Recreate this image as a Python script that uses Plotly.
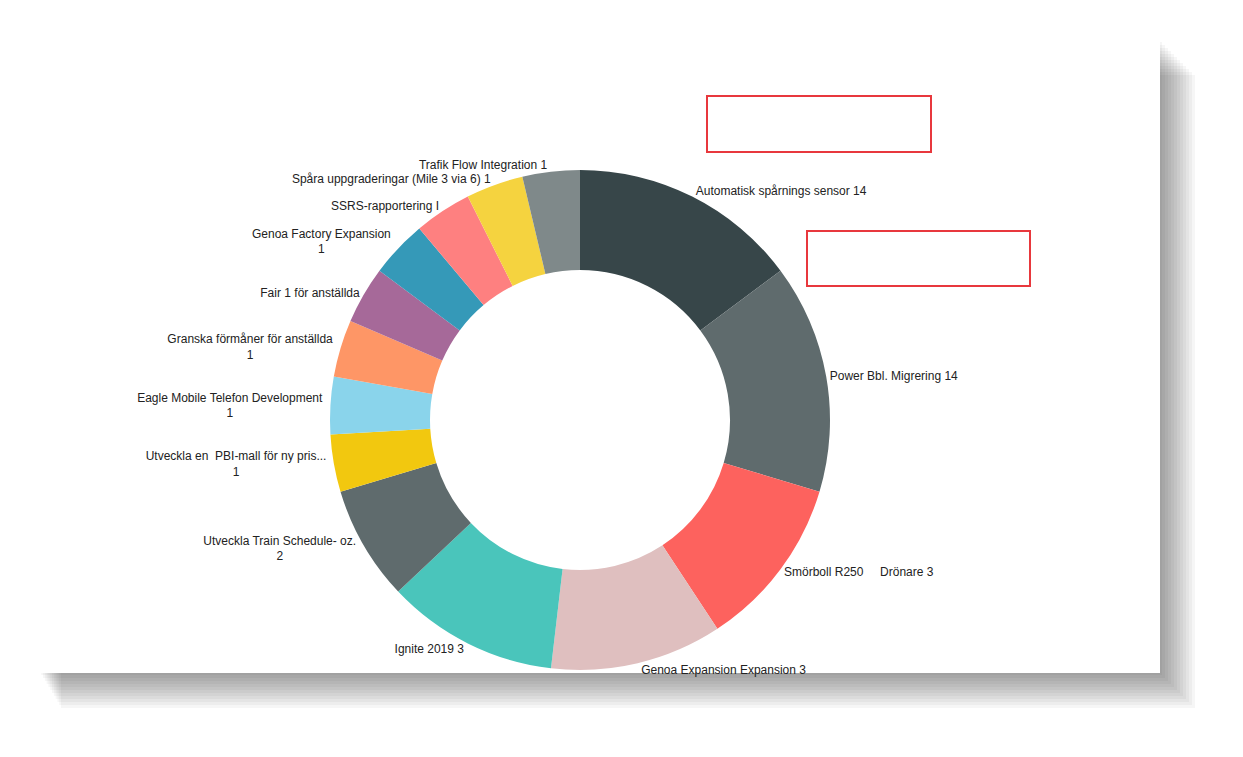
import plotly.graph_objects as go

labels = ["Automatisk spårnings sensor", "Power Bbl. Migrering", "Smörboll R250 Drönare",
          "Genoa Expansion Expansion", "Ignite 2019", "Utveckla Train Schedule- oz.",
          "Utveckla en PBI-mall för ny pris...", "Eagle Mobile Telefon Development",
          "Granska förmåner för anställda", "Fair 1 för anställda", "Genoa Factory Expansion",
          "SSRS-rapportering I", "Spåra uppgraderingar (Mile 3 via 6)", "Trafik Flow Integration"]
values = [4, 4, 3, 3, 3, 2, 1, 1, 1, 1, 1, 1, 1, 1]
texts = ["Automatisk spårnings sensor 14", "Power Bbl. Migrering 14", "Smörboll R250     Drönare 3",
         "Genoa Expansion Expansion 3", "Ignite 2019 3", "Utveckla Train Schedule- oz.<br>2",
         "Utveckla en  PBI-mall för ny pris...<br>1", "Eagle Mobile Telefon Development<br>1",
         "Granska förmåner för anställda<br>1", "Fair 1 för anställda", "Genoa Factory Expansion<br>1",
         "SSRS-rapportering I", "Spåra uppgraderingar (Mile 3 via 6) 1", "Trafik Flow Integration 1"]
colors = ["#374649", "#5F6B6D", "#FD625E", "#DFBFBF", "#4AC5BB", "#5F6B6D", "#F2C80F",
          "#8AD4EB", "#FE9666", "#A66999", "#3599B8", "#FE8080", "#F5D33F", "#7F898A"]

W, H = 1243, 757
OFF = 8
fig = go.Figure(go.Pie(
    labels=labels, values=values, text=texts, textinfo="text", textposition="outside",
    hole=0.6, sort=False, direction="clockwise", rotation=0,
    marker=dict(colors=colors, line=dict(width=0)),
    textfont=dict(family="Segoe UI, Liberation Sans, Arial", size=12, color="#222"),
    automargin=False, showlegend=False, hoverinfo="label+value",
    domain=dict(x=[(330-OFF)/W, (830-OFF)/W], y=[1-(670-OFF)/H, 1-(170-OFF)/H])))

def rect(x0, y0, x1, y1, **kw):
    x0 -= OFF; x1 -= OFF; y0 -= OFF; y1 -= OFF
    return dict(type="rect", xref="paper", yref="paper", x0=x0/W, x1=x1/W, y0=1-y1/H, y1=1-y0/H, **kw)

shapes = []
for i in range(12):
    d = 2 + i*3
    shapes.append(rect(40+d*0.6, 40+d, 1160+d, 673+d, fillcolor="rgba(0,0,0,0.035)", line=dict(width=0), layer="below"))
shapes.append(rect(40, 40, 1160, 673, fillcolor="white", line=dict(width=0), layer="below"))
shapes.append(rect(707, 96, 931, 152, line=dict(color="#E8383D", width=2)))
shapes.append(rect(807, 231, 1030, 286, line=dict(color="#E8383D", width=2)))

fig.update_layout(width=W, height=H, margin=dict(l=0, r=0, t=0, b=0),
                  paper_bgcolor="white", plot_bgcolor="white", shapes=shapes)
fig.write_html("out.html")
